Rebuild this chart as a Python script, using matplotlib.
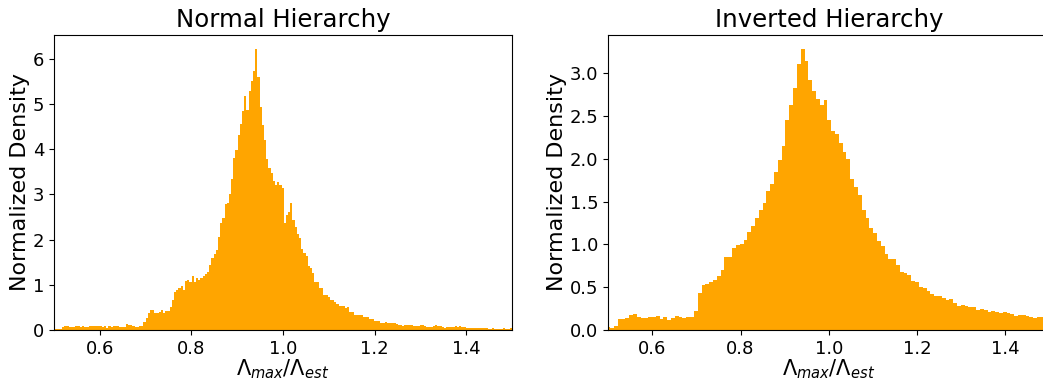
import numpy as np
import matplotlib
matplotlib.use("Agg")
import matplotlib.pyplot as plt

# bin layout
nh_start, nh_width = 0.4989, 0.004787
ih_start, ih_width = 0.49586, 0.008636

# Normal hierarchy: normalized density per bin
nh_density = [
    0.02, 0.02, 0.02, 0.02, 0.06, 0.09, 0.09, 0.07, 0.07, 0.07,
    0.09, 0.09, 0.07, 0.09, 0.07, 0.07, 0.09, 0.09, 0.09, 0.09,
    0.09, 0.09, 0.07, 0.09, 0.05, 0.09, 0.07, 0.09, 0.09, 0.09,
    0.07, 0.07, 0.07, 0.13, 0.10, 0.11, 0.09, 0.07, 0.07, 0.09,
    0.08, 0.18, 0.27, 0.38, 0.44, 0.44, 0.38, 0.38, 0.40, 0.44,
    0.38, 0.42, 0.42, 0.51, 0.66, 0.84, 0.88, 0.93, 0.97, 0.88,
    1.08, 1.11, 1.06, 1.19, 1.06, 1.15, 1.11, 1.15, 1.19, 1.24,
    1.28, 1.44, 1.59, 1.68, 1.77, 2.06, 2.37, 2.48, 2.79, 2.81,
    3.01, 3.34, 3.81, 3.98, 4.31, 4.56, 4.85, 5.18, 4.87, 5.29,
    5.51, 5.73, 6.22, 5.60, 4.93, 4.54, 4.20, 3.78, 3.58, 3.47,
    3.30, 3.21, 3.27, 3.21, 3.14, 2.37, 2.54, 2.61, 2.81, 2.43,
    2.28, 2.12, 2.04, 1.79, 1.70, 1.64, 1.42, 1.37, 1.26, 1.06,
    1.06, 0.93, 0.93, 0.77, 0.77, 0.73, 0.66, 0.66, 0.62, 0.58,
    0.53, 0.53, 0.53, 0.49, 0.51, 0.40, 0.40, 0.33, 0.33, 0.33,
    0.33, 0.29, 0.29, 0.29, 0.24, 0.24, 0.20, 0.20, 0.20, 0.15,
    0.15, 0.18, 0.15, 0.15, 0.15, 0.15, 0.13, 0.12, 0.11, 0.09,
    0.11, 0.11, 0.11, 0.11, 0.09, 0.09, 0.09, 0.11, 0.11, 0.09,
    0.07, 0.07, 0.07, 0.09, 0.11, 0.09, 0.09, 0.07, 0.04, 0.07,
    0.07, 0.07, 0.07, 0.09, 0.07, 0.09, 0.07, 0.07, 0.04, 0.04,
    0.04, 0.04, 0.04, 0.04, 0.04, 0.04, 0.04, 0.04, 0.02, 0.03,
    0.04, 0.02, 0.02, 0.02, 0.03, 0.04, 0.02, 0.03, 0.04, 0.03,
]

# Inverted hierarchy: normalized density per bin
ih_density = [
    0.035, 0.02, 0.05, 0.13, 0.13, 0.14, 0.175, 0.187, 0.15, 0.14,
    0.14, 0.15, 0.15, 0.16, 0.13, 0.15, 0.12, 0.14, 0.16, 0.15,
    0.14, 0.15, 0.15, 0.22, 0.43, 0.53, 0.54, 0.56, 0.58, 0.63,
    0.70, 0.85, 0.85, 0.96, 0.99, 1.00, 1.05, 1.14, 1.21, 1.31,
    1.40, 1.48, 1.62, 1.71, 1.85, 1.99, 2.15, 2.45, 2.63, 2.82,
    3.11, 3.28, 3.14, 2.92, 2.79, 2.70, 2.63, 2.69, 2.45, 2.32,
    2.29, 2.18, 2.08, 2.00, 1.76, 1.67, 1.58, 1.40, 1.31, 1.19,
    1.13, 1.04, 0.98, 0.89, 0.83, 0.83, 0.76, 0.68, 0.67, 0.64,
    0.57, 0.56, 0.50, 0.49, 0.46, 0.42, 0.40, 0.40, 0.37, 0.35,
    0.36, 0.32, 0.28, 0.29, 0.28, 0.27, 0.27, 0.23, 0.245, 0.23,
    0.21, 0.22, 0.21, 0.20, 0.21, 0.20, 0.19, 0.16, 0.175, 0.175,
    0.16, 0.15, 0.14, 0.15, 0.15, 0.14,
]

nh_edges = nh_start + nh_width * np.arange(len(nh_density) + 1)
ih_edges = ih_start + ih_width * np.arange(len(ih_density) + 1)

fig = plt.figure(figsize=(10.43, 3.83), dpi=100)
ax1 = fig.add_axes([0.0518, 0.1384, 0.4391, 0.7702])
ax2 = fig.add_axes([0.5830, 0.1384, 0.4233, 0.7702])

for ax, edges, dens, title in [
    (ax1, nh_edges, nh_density, "Normal Hierarchy"),
    (ax2, ih_edges, ih_density, "Inverted Hierarchy"),
]:
    ax.stairs(dens, edges, fill=True, color="orange")
    ax.set_xlim(0.5, 1.5)
    ax.set_title(title, fontsize=17.6)
    ax.set_xlabel(r"$\Lambda_{max}/\Lambda_{est}$", fontsize=15, labelpad=0)
    ax.set_ylabel("Normalized Density", fontsize=16, labelpad=2)
    ax.tick_params(labelsize=13)

fig.savefig("out.png", dpi=100)
